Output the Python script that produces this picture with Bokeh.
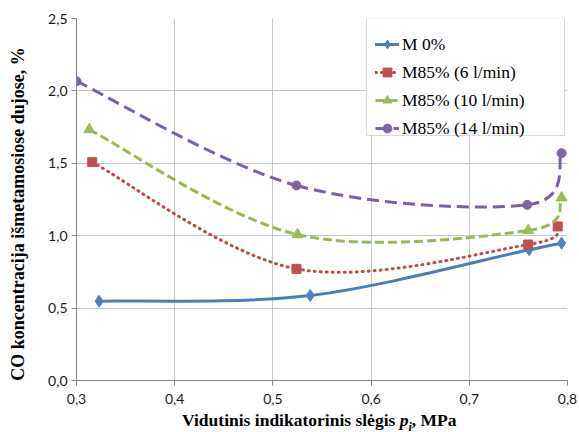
import math
from bokeh.plotting import figure
from bokeh.models import (Legend, LegendItem, CustomJSTickFormatter, ColumnDataSource,
                          Div, BoxAnnotation)
from bokeh.layouts import column, row
from bokeh.embed import file_html
from bokeh.resources import INLINE

# ---- data ----
series_names = ["M 0%", "M85% (6 l/min)", "M85% (10 l/min)", "M85% (14 l/min)"]
x_m0 = [0.323, 0.538, 0.761, 0.794]
y_m0 = [0.548, 0.587, 0.903, 0.948]
x_m85_6 = [0.316, 0.524, 0.760, 0.790]
y_m85_6 = [1.508, 0.771, 0.939, 1.064]
x_m85_10 = [0.313, 0.525, 0.760, 0.794]
y_m85_10 = [1.733, 1.008, 1.036, 1.262]
x_m85_14 = [0.300, 0.524, 0.759, 0.794]
y_m85_14 = [2.067, 1.347, 1.213, 1.570]
x_ticks = [0.3, 0.4, 0.5, 0.6, 0.7, 0.8]
y_ticks = [0.0, 0.5, 1.0, 1.5, 2.0, 2.5]
x_title = "Vidutinis indikatorinis slėgis <i>p<sub style='font-size:12px;line-height:0'>i</sub></i>, MPa"
y_title = "CO koncentracija išmetamosiose dujose, %"

W, H = 579, 432
YT_W = 30          # width of the column holding the y title
XT_H = 22          # height of the row holding the x title
X0, X1 = 0.3, 0.8
Y0, Y1 = 0.0, 2.5
FL, FR, FT, FB = 76, 567, 18, 380  # frame edges in page px

PW, PH = W - YT_W, H - XT_H


def px_to_x(px):
    return X0 + (px - FL) / (FR - FL) * (X1 - X0)


def px_to_y(py):
    return Y0 + (FB - py) / (FB - FT) * (Y1 - Y0)


p = figure(width=PW, height=PH, x_range=(X0, X1), y_range=(Y0, Y1),
           output_backend="svg", toolbar_location=None,
           min_border_left=FL - YT_W, min_border_right=W - FR, min_border_top=FT,
           min_border_bottom=PH - FB)
p.outline_line_color = None
p.background_fill_color = "white"
p.border_fill_color = "white"

for ax, ticks in ((p.xaxis, x_ticks), (p.yaxis, y_ticks)):
    ax.ticker = ticks
    ax.formatter = CustomJSTickFormatter(code="return tick.toFixed(1).replace('.', ',');")
    ax.axis_line_color = "#868686"
    ax.major_tick_line_color = "#868686"
    ax.major_tick_out = 5
    ax.major_tick_in = 0
    ax.minor_tick_line_color = None
    ax.major_label_text_font = "Lato"
    ax.major_label_text_font_size = "14px"
    ax.major_label_text_color = "#1a1a1a"
p.xaxis.major_label_standoff = 8
p.yaxis.major_label_standoff = 4

p.xgrid.ticker = x_ticks
p.ygrid.ticker = y_ticks
p.grid.grid_line_color = "#c6c6c6"
p.grid.grid_line_width = 1


def smooth(xs, ys):
    # Excel-style smoothed line: cubic Bezier segments through the points
    n = len(xs)
    d = dict(x0=[], y0=[], x1=[], y1=[], cx0=[], cy0=[], cx1=[], cy1=[])
    for i in range(n - 1):
        a = max(i - 1, 0)
        b = min(i + 2, n - 1)
        d["x0"].append(xs[i]); d["y0"].append(ys[i])
        d["x1"].append(xs[i + 1]); d["y1"].append(ys[i + 1])
        d["cx0"].append(xs[i] + (xs[i + 1] - xs[a]) / 6)
        d["cy0"].append(ys[i] + (ys[i + 1] - ys[a]) / 6)
        d["cx1"].append(xs[i + 1] - (xs[b] - xs[i]) / 6)
        d["cy1"].append(ys[i + 1] - (ys[b] - ys[i]) / 6)
    return ColumnDataSource(d)


styles = [
    dict(xs=x_m0, ys=y_m0, lc="#4A7EBB", mc="#4F81BD", dash="solid", cap="round", marker="diamond", size=12),
    dict(xs=x_m85_6, ys=y_m85_6, lc="#BE4B48", mc="#C0504D", dash="1 5", cap="round", marker="square", size=9),
    dict(xs=x_m85_10, ys=y_m85_10, lc="#98B954", mc="#9BBB59", dash="9 4", cap="butt", marker="triangle", size=11),
    dict(xs=x_m85_14, ys=y_m85_14, lc="#7D60A0", mc="#8064A2", dash="12 6", cap="butt", marker="circle", size=9),
]

items = []
for name, st in zip(series_names, styles):
    src = smooth(st["xs"], st["ys"])
    rl = p.bezier(x0="x0", y0="y0", x1="x1", y1="y1", cx0="cx0", cy0="cy0", cx1="cx1", cy1="cy1",
                  source=src, line_color=st["lc"], line_width=3, line_dash=st["dash"], line_cap=st["cap"])
    rm = p.scatter(st["xs"], st["ys"], marker=st["marker"], size=st["size"],
                   fill_color=st["mc"], line_color=st["mc"], line_width=1)
    items.append(LegendItem(label=name, renderers=[rl, rm]))

# legend frame (wider than Bokeh's auto legend box)
p.add_layout(BoxAnnotation(left=px_to_x(366), right=px_to_x(564), top=px_to_y(17.5), bottom=px_to_y(135),
                           fill_color="white", fill_alpha=1, line_color="#868686", line_width=1))

legend = Legend(items=items, location=(299, 241), label_text_font="Liberation Serif",
                label_text_font_size="17.5px", label_text_color="#000000",
                label_height=22, glyph_height=22, glyph_width=24, label_standoff=3,
                spacing=6, padding=8, margin=0,
                border_line_color=None, background_fill_alpha=0)
p.add_layout(legend)

FONT_CSS = "font-family:'Liberation Serif','Times New Roman',serif;font-weight:bold;color:#000;white-space:nowrap;"

# y axis title (rotated)
ydiv = Div(text=("<div style=\"position:relative;width:%dpx;height:%dpx;\">"
                 "<span style=\"position:absolute;left:18px;top:214px;"
                 "transform:translate(-50%%,-50%%) rotate(-90deg);font-size:18px;line-height:20px;%s\">"
                 "%s</span></div>") % (YT_W, H, FONT_CSS, y_title),
           width=YT_W, height=H, margin=(0, 0, 0, 0))

# x axis title (mixed styles: italic p with subscript i)
xdiv = Div(text=("<div style=\"position:relative;width:%dpx;height:%dpx;\">"
                 "<span style=\"position:absolute;left:%dpx;top:0px;font-size:17.5px;line-height:20px;%s\">"
                 "%s</span></div>") % (PW, XT_H, 182 - YT_W, FONT_CSS, x_title),
           width=PW, height=XT_H, margin=(0, 0, 0, 0))

layout = row(ydiv, column(p, xdiv, spacing=0), spacing=0)
open("out.html", "w").write(file_html(layout, INLINE))
